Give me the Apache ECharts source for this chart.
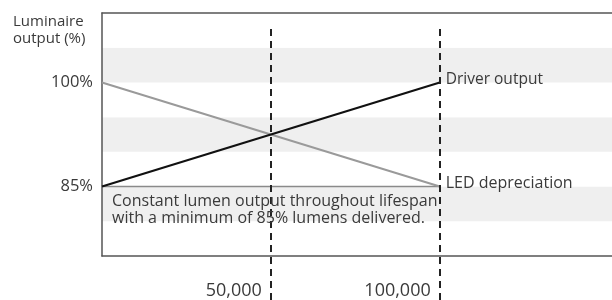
<!DOCTYPE html>
<html>
<head>
<meta charset="utf-8">
<script src="https://cdn.jsdelivr.net/npm/echarts@6/dist/echarts.min.js"></script>
<style>
  html, body { margin: 0; padding: 0; background: #fff; }
  #chart { width: 612px; height: 300px; }
</style>
</head>
<body>
<div id="chart"></div>
<script>
// hours of operation (x) and luminaire output in % (y)
var driverOutput = [[0, 85], [100000, 100]];
var ledDepreciation = [[0, 100], [100000, 85]];
var minimumLevel = [[0, 85], [100000, 85]];
var markedHours = [50000, 100000];
var percentTicks = [85, 100];

var textColor = '#3a3a3a';
var fontFamily = '"Open Sans", Lato, sans-serif';

var chart = echarts.init(document.getElementById('chart'));

chart.setOption({
  backgroundColor: '#fff',
  animation: false,
  textStyle: { fontFamily: fontFamily },
  title: {
    text: 'Luminaire\noutput (%)',
    left: 8,
    top: 8,
    textStyle: { fontSize: 15, fontWeight: 'normal', color: textColor, lineHeight: 17, fontFamily: fontFamily }
  },
  grid: [
    { left: 102, top: 13, right: 0, bottom: 43 },
    { left: 102, top: 25, right: 0, bottom: 0 }
  ],
  xAxis: [
    {
      gridIndex: 0, type: 'value', min: 0, max: 151000,
      axisLine: { show: true, lineStyle: { color: '#555', width: 1.5 } },
      axisTick: { show: false },
      splitLine: { show: false },
      axisLabel: {
        customValues: markedHours,
        formatter: function (v) { return v.toLocaleString('en-US'); },
        align: 'right',
        padding: [0, 9, 0, 0],
        margin: 26,
        fontSize: 18,
        color: textColor
      }
    },
    {
      gridIndex: 0, type: 'value', position: 'top', min: 0, max: 151000,
      axisLine: { show: true, lineStyle: { color: '#555', width: 1.5 } },
      axisTick: { show: false }, axisLabel: { show: false }, splitLine: { show: false }
    },
    {
      gridIndex: 1, type: 'value', min: 0, max: 151000, show: false
    }
  ],
  yAxis: [
    {
      gridIndex: 0, type: 'value', min: 75, max: 110, interval: 5,
      axisLine: { show: true, lineStyle: { color: '#555', width: 1.5 } },
      axisTick: { show: false },
      splitLine: { show: false },
      splitArea: { show: true, areaStyle: { color: ['#ffffff', '#efefef'] } },
      axisLabel: {
        formatter: function (v) { return percentTicks.indexOf(v) >= 0 ? v + '%' : ''; },
        margin: 9,
        fontSize: 16.5,
        color: textColor
      }
    },
    { gridIndex: 1, type: 'value', min: 0, max: 1, show: false }
  ],
  graphic: [{
    type: 'text',
    left: 112,
    top: 193,
    z: 100,
    style: {
      text: 'Constant lumen output throughout lifespan\nwith a minimum of 85% lumens delivered.',
      fontSize: 16,
      lineHeight: 17,
      fill: textColor,
      fontFamily: fontFamily
    }
  }],
  series: [
    {
      name: 'Minimum', type: 'line', xAxisIndex: 0, yAxisIndex: 0,
      data: minimumLevel, symbol: 'none', silent: true,
      lineStyle: { color: '#8a8a8a', width: 1.5 }
    },
    {
      name: 'LED depreciation', type: 'line', xAxisIndex: 0, yAxisIndex: 0,
      data: ledDepreciation, symbol: 'none', silent: true,
      lineStyle: { color: '#9a9a9a', width: 2 },
      endLabel: {
        show: true, formatter: '{a}', distance: 6, offset: [0, -3],
        fontSize: 16, color: textColor
      }
    },
    {
      name: 'Driver output', type: 'line', xAxisIndex: 0, yAxisIndex: 0,
      data: driverOutput, symbol: 'none', silent: true,
      lineStyle: { color: '#111', width: 2.2 },
      endLabel: {
        show: true, formatter: '{a}', distance: 6, offset: [0, -3],
        fontSize: 15.5, color: textColor
      }
    },
    {
      name: 'Milestones', type: 'line', xAxisIndex: 2, yAxisIndex: 1,
      data: [], silent: true,
      markLine: {
        symbol: 'none', silent: true, label: { show: false },
        lineStyle: { color: '#222', width: 2, type: [7, 5] },
        data: markedHours.map(function (h) { return { xAxis: h }; })
      }
    }
  ]
});
</script>
</body>
</html>
